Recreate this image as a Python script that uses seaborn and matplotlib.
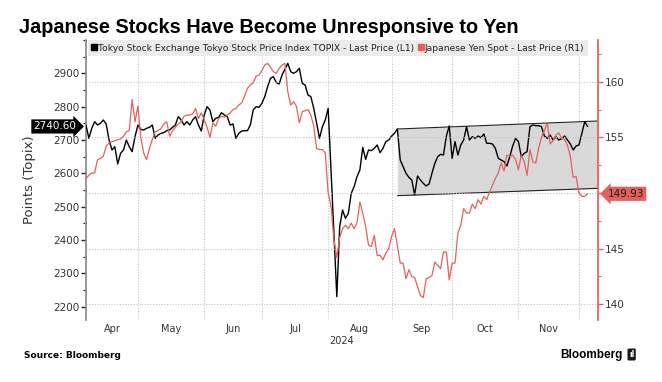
import numpy as np
import pandas as pd
import seaborn as sns
import matplotlib.pyplot as plt
from matplotlib.lines import Line2D
from matplotlib.ticker import FixedLocator, MultipleLocator, NullFormatter

# x axis counts weekdays (Bloomberg style), not calendar days
dates = pd.bdate_range("2024-04-05", "2024-12-05")

# TOPIX last price (left axis)
topix_apr = [2745, 2705, 2735, 2755, 2745, 2750, 2760, 2748, 2700, 2670, 2680, 2628, 2660, 2670, 2700, 2680, 2665, 2710]
topix_may = [2745, 2732, 2730, 2735, 2738, 2745, 2705, 2715, 2720, 2722, 2728, 2730, 2738, 2745, 2770, 2760, 2745, 2755,
             2745, 2760, 2770, 2745, 2727]
topix_jun = [2775, 2800, 2790, 2755, 2765, 2768, 2782, 2775, 2770, 2745, 2748, 2705, 2720, 2727, 2728, 2728, 2745, 2790,
             2800, 2798]
topix_jul = [2810, 2830, 2860, 2885, 2890, 2872, 2868, 2895, 2912, 2930, 2905, 2900, 2905, 2915, 2870, 2865, 2835, 2830,
             2795, 2750, 2705, 2740, 2760]
topix_aug = [2795, 2610, 2420, 2230, 2440, 2490, 2465, 2480, 2540, 2560, 2590, 2610, 2678, 2642, 2670, 2668, 2675, 2685,
             2662, 2675, 2695, 2700]
topix_sep = [2712, 2720, 2733, 2640, 2620, 2600, 2588, 2580, 2535, 2592, 2580, 2570, 2562, 2568, 2600, 2630, 2650, 2657,
             2655, 2712, 2742]
topix_oct = [2645, 2695, 2655, 2685, 2700, 2740, 2700, 2710, 2705, 2712, 2707, 2718, 2690, 2690, 2688, 2675, 2645, 2640,
             2635, 2622, 2650, 2682, 2705]
topix_nov = [2695, 2650, 2660, 2665, 2740, 2745, 2743, 2743, 2740, 2712, 2705, 2715, 2700, 2710, 2700, 2704, 2712, 2700,
             2688, 2670, 2682]
topix_dec = [2685, 2720, 2755, 2740.60]

# USD/JPY spot (right axis)
yen_apr = [151.3, 151.6, 151.8, 151.8, 153.0, 153.1, 153.3, 154.2, 154.5, 154.6, 154.7, 154.8, 154.85, 155.1, 155.5,
           155.6, 158.4, 156.4]
yen_may = [157.8, 155.0, 153.6, 153.0, 154.0, 154.8, 155.5, 155.6, 155.8, 156.2, 156.4, 155.1, 155.6, 155.9, 156.2,
           156.4, 156.9, 157.0, 157.0, 157.1, 157.6, 156.7, 157.2]
yen_jun = [156.6, 155.9, 155.0, 156.3, 156.0, 156.7, 156.9, 156.8, 157.0, 157.2, 157.5, 157.6, 157.9, 158.1, 158.7,
           159.4, 159.7, 159.9, 160.5, 160.6]
yen_jul = [161.0, 161.5, 161.65, 161.3, 160.9, 160.75, 161.2, 161.5, 161.65, 159.1, 157.9, 158.2, 157.8, 156.3, 157.3,
           157.4, 157.5, 157.0, 156.0, 154.0, 153.9, 153.9, 153.6]
yen_aug = [150.0, 148.8, 145.8, 144.2, 146.0, 146.8, 147.1, 146.8, 147.3, 146.8, 147.3, 149.2, 148.2, 147.0, 145.3,
           145.2, 146.2, 144.4, 144.4, 144.0, 144.6, 145.0]
yen_sep = [146.1, 146.8, 145.3, 143.7, 143.7, 142.3, 143.1, 142.5, 142.4, 141.6, 140.8, 140.6, 142.3, 142.4, 142.6,
           143.8, 143.5, 143.2, 144.7, 144.7, 142.2]
yen_oct = [143.7, 143.7, 146.4, 147.1, 148.6, 148.2, 148.2, 149.0, 148.6, 149.4, 149.0, 149.7, 149.4, 150.1, 150.7,
           151.3, 151.8, 152.7, 152.0, 153.4, 153.3, 153.4, 153.0]
yen_nov = [152.1, 153.4, 152.8, 151.6, 153.9, 152.8, 152.7, 154.0, 155.0, 155.6, 156.3, 154.4, 154.7, 155.2, 155.4,
           154.9, 154.8, 154.3, 153.3, 151.4, 151.5]
yen_dec = [150.0, 149.7, 149.7, 149.93]

# trading channel drawn on the TOPIX line
channel_start = "2024-09-04"
channel_top = [2733, 2757]
channel_bottom = [2533, 2555]

month_names = ["Apr", "May", "Jun", "Jul", "Aug", "Sep", "Oct", "Nov"]
left_ticks = list(range(2200, 3000, 100))
right_ticks = list(range(140, 165, 5))

topix = topix_apr + topix_may + topix_jun + topix_jul + topix_aug + topix_sep + topix_oct + topix_nov + topix_dec
yen = yen_apr + yen_may + yen_jun + yen_jul + yen_aug + yen_sep + yen_oct + yen_nov + yen_dec

df = pd.DataFrame({"date": dates, "pos": np.arange(len(dates)), "topix": topix, "yen": yen})

RED = "#e3615d"
sns.set_theme(style="white")
plt.rcParams['font.family'] = ['DejaVu Sans']

fig = plt.figure(figsize=(6.62, 3.82), dpi=100)
ax = fig.add_axes([86 / 662, 1 - 320 / 382, 512 / 662, 280 / 382])
ax2 = ax.twinx()

x_left, x_right = 0, len(dates) - 1 + 3.6
ax.set_xlim(x_left, x_right)
ax.set_ylim(2160, 3000)
ax2.set_ylim(138.59, 163.75)

# channel band
c0 = df.loc[df["date"] == pd.Timestamp(channel_start), "pos"].iloc[0]
ax.fill_between([c0, x_right], channel_bottom, channel_top, color="#d9d9d9", lw=0, zorder=1)
ax.plot([c0, x_right], channel_top, color="#222222", lw=0.8, zorder=2)
ax.plot([c0, x_right], channel_bottom, color="#222222", lw=0.8, zorder=2)

sns.lineplot(data=df, x="pos", y="topix", ax=ax, color="black", lw=1.0, zorder=3)
sns.lineplot(data=df, x="pos", y="yen", ax=ax2, color=RED, lw=0.9, zorder=3)

# month boundaries (gridlines) and month labels centred in each month
month_key = df["date"].dt.to_period("M")
starts = df.groupby(month_key)["pos"].min()
bounds = [x_left] + list(starts.iloc[1:]) + [x_right]
label_pos = [(bounds[k] + bounds[k + 1]) / 2 for k in range(len(month_names))]
ax.xaxis.set_major_locator(FixedLocator(list(starts.iloc[1:])))
ax.xaxis.set_major_formatter(NullFormatter())
ax.set_xticks(label_pos, month_names, minor=True)
ax.tick_params(axis="x", which="both", length=0, labelsize=7, labelcolor="#333333", pad=3)
ax.grid(axis="x", which="major", linestyle=(0, (1, 1.5)), color="#c4c4c4", lw=0.8)
ax.set_xlabel("")
ax.text(0.5, -21.5 / 280, "2024", transform=ax.transAxes, ha="center", va="center", fontsize=7, color="#333333")

ax.set_yticks(left_ticks)
ax.yaxis.set_minor_locator(MultipleLocator(50))
ax.tick_params(axis="y", which="major", left=True, length=3.5, width=1, color="#222222", labelsize=7.5,
               labelcolor="#333333", pad=1.5)
ax.tick_params(axis="y", which="minor", left=True, length=2, width=0.8, color="#222222")
ax.set_ylabel("Points (Topix)", fontsize=9.5, color="#333333")
ax.yaxis.set_label_coords(-0.098, 0.5)

# the last-price tag covers the tick label next to it
right_labels = ["" if abs(t - yen[-1]) < 1.5 else str(t) for t in right_ticks]
ax2.set_yticks(right_ticks, right_labels)
ax2.yaxis.set_minor_locator(MultipleLocator(2.5))
ax2.tick_params(axis="y", which="major", right=True, length=3.5, width=1, color=RED, labelsize=7.5,
                labelcolor="#333333", pad=1.5)
ax2.tick_params(axis="y", which="minor", right=True, length=2, width=0.8, color=RED)
ax2.grid(axis="y", which="major", linestyle=(0, (1, 1.5)), color="#c4c4c4", lw=0.8)
ax2.set_ylabel("")

for s in ["top", "right", "bottom"]:
    ax.spines[s].set_visible(False)
ax.spines["left"].set_color("#8a8a8a")
for s in ["top", "left", "bottom"]:
    ax2.spines[s].set_visible(False)
ax2.spines["right"].set_color(RED)

# last value tags
ax.annotate(f"{topix[-1]:.2f}", xy=(0, topix[-1]), xycoords=("axes fraction", "data"), xytext=(-7, 0),
            textcoords="offset points", ha="right", va="center", fontsize=7.5, color="white",
            bbox=dict(boxstyle="rarrow,pad=0.2", fc="black", ec="none"), annotation_clip=False)
ax2.annotate(f"{yen[-1]:.2f}", xy=(1, yen[-1]), xycoords=("axes fraction", "data"), xytext=(7, 0),
             textcoords="offset points", ha="left", va="center", fontsize=7.5, color="#1a1a1a",
             bbox=dict(boxstyle="larrow,pad=0.2", fc=RED, ec="none"), annotation_clip=False)

# legend strip
handles = [Line2D([], [], marker="s", color="black", ls="none", markersize=4),
           Line2D([], [], marker="s", color=RED, ls="none", markersize=4)]
labels = ["Tokyo Stock Exchange Tokyo Stock Price Index TOPIX - Last Price (L1)",
          "Japanese Yen Spot - Last Price (R1)"]
leg = ax2.legend(handles, labels, loc="upper left", bbox_to_anchor=(2 / 512, 1, 500 / 512, 0), mode="expand",
                 ncol=2, frameon=True, fancybox=False, facecolor="#ebebeb", edgecolor="none", framealpha=1,
                 fontsize=6.6, handlelength=0.5, handletextpad=0.2, borderpad=0.4, borderaxespad=0,
                 columnspacing=0.8)
for t in leg.get_texts():
    t.set_color("#222222")

fig.text(0.028, 1 - 33 / 382, "Japanese Stocks Have Become Unresponsive to Yen", fontsize=14.3, fontweight="bold",
         family=["Liberation Sans", "DejaVu Sans"], color="black", va="baseline")
fig.text(24 / 662, 1 - 358 / 382, "Source: Bloomberg", fontsize=6.5, fontweight="bold", color="black",
         va="baseline")
fig.text(560 / 662, 1 - 358 / 382, "Bloomberg", fontsize=8.5, fontweight="bold", family=["Liberation Sans", "DejaVu Sans"],
         color="black", va="baseline")
fig.text(629 / 662, 1 - 357 / 382, "ıl", fontsize=5.5, fontweight="bold", color="white", va="baseline",
         bbox=dict(boxstyle="round,pad=0.2", fc="#1a1a1a", ec="none"))

fig.savefig("out.png", dpi=100, facecolor="white")
